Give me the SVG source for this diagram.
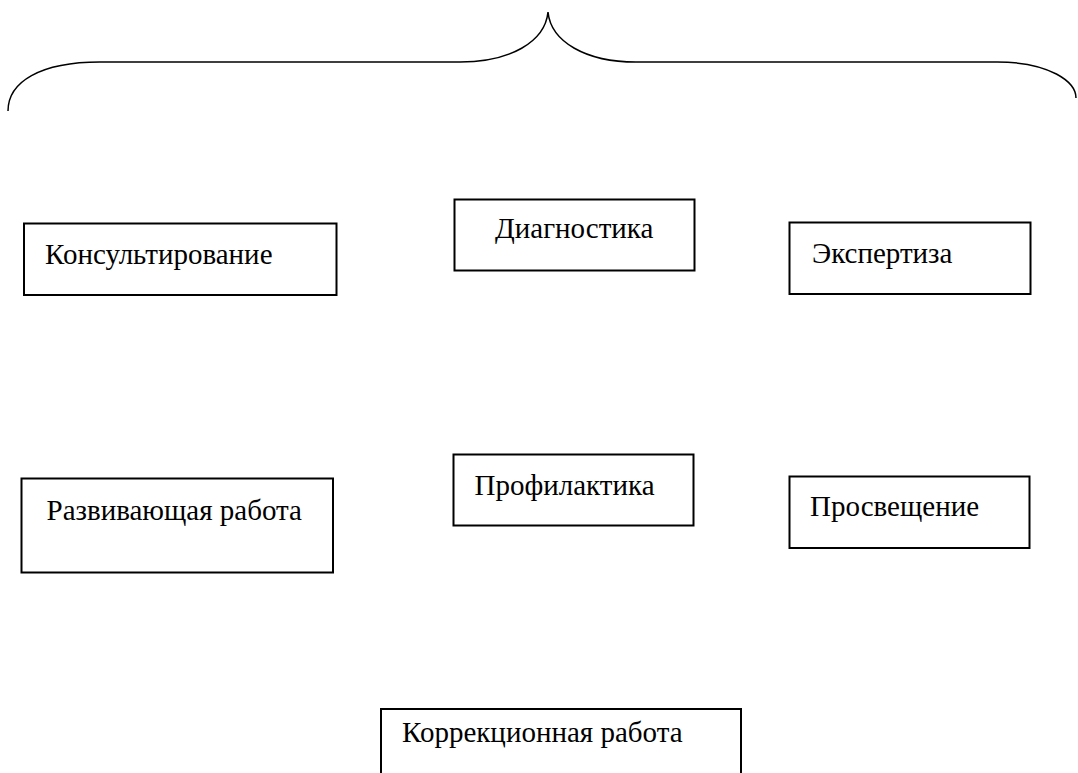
<svg xmlns="http://www.w3.org/2000/svg" width="1078" height="773" viewBox="0 0 1078 773">
<style>
.box{fill:#fff;stroke:#000;stroke-width:2}
text{font-family:'Liberation Serif','Times New Roman','DejaVu Serif',serif;font-size:29px;fill:#000}
.brace{fill:none;stroke:#000;stroke-width:1.5}
</style>
<rect width="1078" height="773" fill="#fff"/>
<g id="connectors">
<path class="brace" d="M 8,111 C 8,82 40,62 100,62 L 460,62 C 510,62 545,42 548,12 C 551,42 586,62 636,62 L 997,62 C 1050,62 1076,82 1076,98"/>
</g>
<g id="n1"><rect class="box" x="24" y="223.5" width="312.5" height="71.5"/><text x="45" y="264">Консультирование</text></g>
<g id="n2"><rect class="box" x="454.5" y="199.5" width="240" height="71"/><text x="495" y="238">Диагностика</text></g>
<g id="n3"><rect class="box" x="789.5" y="222.5" width="241" height="71.5"/><text x="812" y="263">Экспертиза</text></g>
<g id="n4"><rect class="box" x="21.5" y="478.5" width="311.5" height="94"/><text x="46.5" y="520">Развивающая работа</text></g>
<g id="n5"><rect class="box" x="453.5" y="454.5" width="240" height="71"/><text x="474.5" y="495">Профилактика</text></g>
<g id="n6"><rect class="box" x="789.5" y="476.5" width="240" height="71.5"/><text x="810" y="516">Просвещение</text></g>
<g id="n7"><rect class="box" x="381" y="709" width="360" height="80"/><text x="402" y="742">Коррекционная работа</text></g>
</svg>
